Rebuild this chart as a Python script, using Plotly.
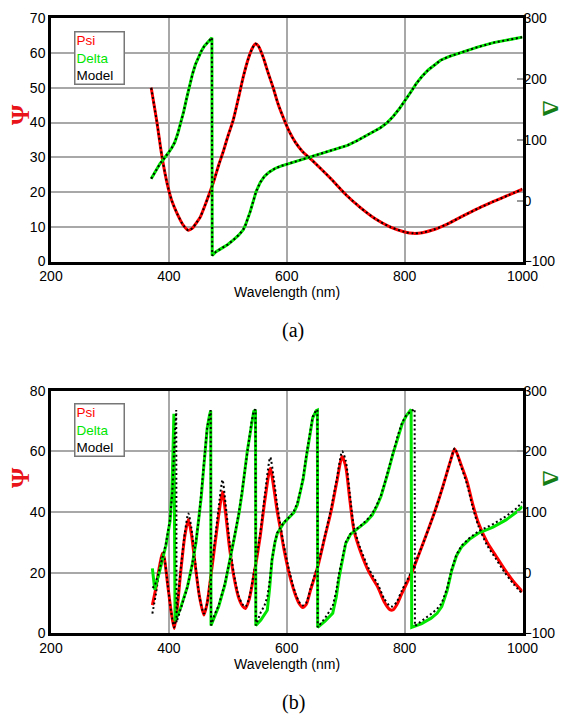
import plotly.graph_objects as go

# ---------------- Data (a) ----------------
wl_psi_a = [370, 375, 380, 388, 397, 405, 414, 425, 433, 440, 447, 453, 462, 475, 485, 492, 500, 509, 518, 526,
            535, 542, 547, 552, 560, 568, 577, 585, 594, 604, 615, 627, 640, 650, 675, 700, 725, 750, 775, 800,
            815, 830, 850, 875, 900, 925, 950, 975, 1000]
psi_a = [50, 45, 39.8, 30.5, 22.5, 17.5, 13.8, 10.3, 9.0, 9.6, 11.2, 12.7, 16.5, 22.5, 28, 31.5, 36, 40.6, 47, 53,
         58.5, 61.5, 62.7, 62, 58.8, 54.5, 50, 45.5, 41.5, 37.5, 34.2, 31.6, 29.6, 28.0, 23.8, 19.3, 15.5, 12.3, 10.0, 8.5,
         8.1, 8.3, 9.2, 11.0, 13.2, 15.3, 17.2, 19.0, 20.8]

wl_delta_a = [370, 375, 380, 385, 390, 395, 400, 405, 410, 415, 419, 425, 430, 436, 440, 445, 450, 455, 460, 465,
              470, 473, 473.5, 480, 490, 500, 509, 518, 526, 530, 538, 543, 548, 555, 562, 570, 580, 590, 600, 620,
              640, 660, 680, 703, 720, 740, 759, 770, 780, 790, 800, 810, 820, 830, 840, 850, 861, 875, 890, 900,
              925, 951, 975, 1000]
delta_a = [36, 45, 54, 61, 67, 73, 80, 87, 96, 110, 124, 146, 168, 193, 208, 224, 236, 246, 254, 260,
           265, 268, -90, -84, -78, -72, -65, -57, -48, -40, -18, 0, 15, 30, 40, 47, 53, 57, 60, 65,
           71, 78, 84, 91, 99, 110, 120, 128, 138, 150, 163, 178, 193, 205, 215, 223, 231, 237, 242, 245,
           253, 260, 265, 269]

# model curves in (a) coincide with the data
model_psi_a = list(psi_a)
model_delta_a = list(delta_a)

# ---------------- Data (b) ----------------
wl_psi_b = [372, 378, 384, 389, 392, 398, 404, 409, 414, 420, 427, 433, 438, 445, 452, 459.5, 465, 472, 480, 486,
            491, 496, 503, 510, 518, 525, 530, 536, 545, 555, 563, 572, 578, 584, 589, 595, 605, 615, 622, 627,
            633, 640, 654, 665, 675, 685, 694, 700, 707, 714, 725, 740, 755, 765, 775, 780, 787, 795, 812, 830,
            850, 865, 878, 885, 895, 906, 915, 925, 940, 955, 970, 985, 1000]
psi_b = [9.3, 15, 22, 26.4, 25, 16, 7, 1.6, 8, 20, 32, 37.5, 33, 22, 12, 6, 10, 20, 32, 41,
         46.7, 40, 28, 19, 12, 9, 8.2, 11, 20, 32, 44, 54.4, 48, 40, 34.7, 28, 19, 12.5, 9.5, 8.5,
         9.5, 14, 23, 32, 40, 50, 58.3, 55, 44, 34, 27, 20, 15, 10.5, 7.8, 7.7, 9.5, 13, 20, 29,
         39.5, 48.5, 57, 60.8, 56, 50, 43, 36.5, 30, 25.5, 21, 17, 13.7]
model_psi_b = [6.5, 13, 21, 26.0, 25, 16, 7, 2.0, 9, 21, 33, 39.5, 35, 23, 12, 6.5, 10, 21, 34, 44,
               50.6, 43, 30, 20, 12.5, 9.5, 8.8, 11.5, 21, 33, 46, 58, 51, 42, 36, 29, 20, 13, 10, 9.2,
               10, 14.5, 23.5, 32.5, 41, 51, 60, 57, 46, 35, 28, 21, 16, 11.5, 9, 8.9, 10.5, 14, 20.5, 29,
               39.5, 48.5, 57, 61, 55.5, 49, 42, 35.5, 29, 24.5, 20, 16.2, 13]

wl_delta_b = [372, 376, 385, 395, 402, 405, 407, 408.5, 410.5, 420, 431.5, 440, 446, 451, 455, 459, 465, 469, 471, 471.5,
              478, 484.5, 495, 505, 512, 519, 524, 533, 540, 544, 547, 547.5, 556, 562, 567, 571, 575, 580, 584, 595,
              606, 612, 618, 624, 628, 633, 640, 644, 650, 652, 652.5, 665, 678, 684, 689, 695, 700, 708, 716, 725,
              735, 745, 753, 760, 766, 772, 780, 789, 796, 803, 811, 812, 820, 829, 845, 855, 863, 872, 880, 888,
              897, 910, 925, 950, 972, 990, 1000]
delta_b = [7, -28, 5, 45, 85, 130, 200, 262, -80, -58, -23, 15, 50, 87, 125, 172, 238, 260, 267, -87,
           -70, -56, -20, 26, 62, 98, 130, 200, 245, 266, 268, -87, -78, -70, -62, -25, 21, 50, 65, 82,
           92, 99, 112, 135, 155, 189, 235, 255, 267, 268, -90, -80, -67, -40, -7, 25, 48, 63, 69, 76,
           84, 95, 110, 126, 145, 166, 195, 226, 246, 259, 269, -90, -87, -84, -75, -67, -56, -30, 4, 28,
           43, 55, 65, 75, 87, 100, 109]

wl_model_delta_b = [372, 376, 385, 395, 402, 406, 409, 411, 412.5, 413, 420, 431.5, 440, 446, 451, 455, 459, 465, 469, 471,
                    471.5, 478, 484.5, 495, 505, 512, 519, 524, 533, 540, 544, 547, 547.5, 556, 562, 567, 571, 575, 580, 584,
                    595, 606, 612, 618, 624, 628, 633, 640, 644, 650, 652, 652.5, 665, 678, 684, 689, 695, 700, 708, 716,
                    725, 735, 745, 753, 760, 766, 772, 780, 789, 796, 803, 811, 817, 817.5, 829, 845, 855, 863, 872, 880,
                    888, 897, 910, 925, 950, 972, 990, 1000]
model_delta_b = [-25, -22, 8, 48, 88, 135, 205, 250, 268, -82, -60, -24, 16, 52, 90, 128, 175, 240, 262, 268,
                 -87, -68, -54, -18, 28, 64, 100, 133, 202, 247, 267, 269, -87, -65, -55, -40, -15, 22, 51, 66,
                 83, 93, 101, 115, 138, 158, 192, 238, 257, 268, 269, -90, -75, -55, -30, 0, 28, 50, 64, 70,
                 77, 86, 97, 112, 128, 147, 168, 197, 228, 248, 260, 266, 270, -88, -80, -68, -60, -50, -26, 6,
                 30, 45, 57, 68, 80, 93, 106, 117]

x_ticks = [200, 400, 600, 800, 1000]
psi_ticks_a = [0, 10, 20, 30, 40, 50, 60, 70]
psi_ticks_b = [0, 20, 40, 60, 80]
delta_ticks = [-100, 0, 100, 200, 300]
legend_labels = ["Psi", "Delta", "Model"]

# ---------------- Layout helpers ----------------
W, H = 566, 717
def px(x):
    return x / W
def py(y):
    return 1 - y / H

RED = "#ff0000"
GREEN = "#00e600"
FONT = "Liberation Sans, Arial, sans-serif"
SERIF = "Liberation Serif, Times New Roman, serif"
GRID = "#a8a8a8"
DOT = "2px,2.6px"

fig = go.Figure()

def add_set(wp, p, wd, d, wmp, mp, wmd, md, xa, ya_l, ya_r):
    fig.add_trace(go.Scatter(x=wp, y=p, mode="lines", line=dict(color=RED, width=3, shape="spline", smoothing=0.7),
                             xaxis=xa, yaxis=ya_l, showlegend=False, hoverinfo="skip"))
    fig.add_trace(go.Scatter(x=wd, y=d, mode="lines", line=dict(color=GREEN, width=3),
                             xaxis=xa, yaxis=ya_r, showlegend=False, hoverinfo="skip"))
    fig.add_trace(go.Scatter(x=wmp, y=mp, mode="lines",
                             line=dict(color="black", width=2, dash=DOT, shape="spline", smoothing=0.7),
                             xaxis=xa, yaxis=ya_l, showlegend=False, hoverinfo="skip"))
    fig.add_trace(go.Scatter(x=wmd, y=md, mode="lines", line=dict(color="black", width=2, dash=DOT),
                             xaxis=xa, yaxis=ya_r, showlegend=False, hoverinfo="skip"))

add_set(wl_psi_a, psi_a, wl_delta_a, delta_a, wl_psi_a, model_psi_a, wl_delta_a, model_delta_a, "x", "y", "y2")
add_set(wl_psi_b, psi_b, wl_delta_b, delta_b, wl_psi_b, model_psi_b, wl_model_delta_b, model_delta_b, "x2", "y3", "y4")

xdom = [px(51), px(522.5)]
ydom_a = [py(261.5), py(18.3)]
ydom_b = [py(633.3), py(390.7)]

tickfont = dict(family=FONT, size=14, color="black")
common_x = dict(range=[200, 1000], tickvals=x_ticks, showgrid=True, gridcolor=GRID, gridwidth=1.5,
                showline=True, linecolor="black", linewidth=2.5, mirror=True, zeroline=False,
                ticks="", tickfont=tickfont, domain=xdom)
common_yl = dict(showgrid=True, gridcolor=GRID, gridwidth=1.5, showline=True, linecolor="black",
                 linewidth=2.5, mirror=True, zeroline=False, ticks="", tickfont=tickfont)
common_yr = dict(range=[-100, 300], tickvals=delta_ticks, showgrid=False, zeroline=False, showline=False,
                 ticks="inside", ticklen=6, tickcolor="#999999", tickwidth=1.5, tickfont=tickfont, side="right")

fig.update_layout(
    width=W, height=H, margin=dict(l=0, r=0, t=0, b=0, autoexpand=False),
    paper_bgcolor="white", plot_bgcolor="white", showlegend=False,
    xaxis=dict(**common_x, anchor="y"),
    yaxis=dict(**common_yl, range=[0, 70], tickvals=psi_ticks_a, domain=ydom_a, anchor="x"),
    yaxis2=dict(**common_yr, overlaying="y", anchor="x"),
    xaxis2=dict(**common_x, anchor="y3"),
    yaxis3=dict(**common_yl, range=[0, 80], tickvals=psi_ticks_b, domain=ydom_b, anchor="x2"),
    yaxis4=dict(**common_yr, overlaying="y3", anchor="x2"),
)

legend_html = "<br>".join(
    f'<span style="color:{c}">{t}</span>' for t, c in zip(legend_labels, [RED, GREEN, "black"]))

ann = []
for (psi_y, delta_y, leg_top, xt_y, cap_y, cap) in [
        (115, 108, 31, 292, 330, "(a)"),
        (478, 478, 403, 664, 702, "(b)")]:
    ann.append(dict(x=px(20), y=py(psi_y), xref="paper", yref="paper", text="<b>Ψ</b>", showarrow=False,
                    textangle=-90, font=dict(family=SERIF, size=26, color="#e8141a"),
                    xanchor="center", yanchor="middle"))
    ann.append(dict(x=px(551), y=py(delta_y), xref="paper", yref="paper",
                    text="<b>Δ</b>", showarrow=False, textangle=90,
                    font=dict(family=SERIF, size=24, color="#157d15"), xanchor="center", yanchor="middle"))
    ann.append(dict(x=px(287), y=py(xt_y), xref="paper", yref="paper", text="Wavelength (nm)",
                    showarrow=False, font=dict(family=FONT, size=14, color="black"),
                    xanchor="center", yanchor="middle"))
    ann.append(dict(x=px(293), y=py(cap_y), xref="paper", yref="paper", text=cap, showarrow=False,
                    font=dict(family=SERIF, size=20, color="black"), xanchor="center", yanchor="middle"))
    ann.append(dict(x=px(74), y=py(leg_top), xref="paper", yref="paper", text=legend_html, showarrow=False,
                    font=dict(family=FONT, size=13.5, color="black"), xanchor="left", yanchor="top",
                    align="left", width=46, height=49, borderpad=1, bordercolor="#777777", borderwidth=1.5,
                    bgcolor="white"))

fig.update_layout(annotations=ann)
fig.write_html("out.html", config={"displayModeBar": False},
               post_script="document.body.style.margin='0';document.body.style.padding='0';"
                           "document.body.style.overflow='hidden';")
